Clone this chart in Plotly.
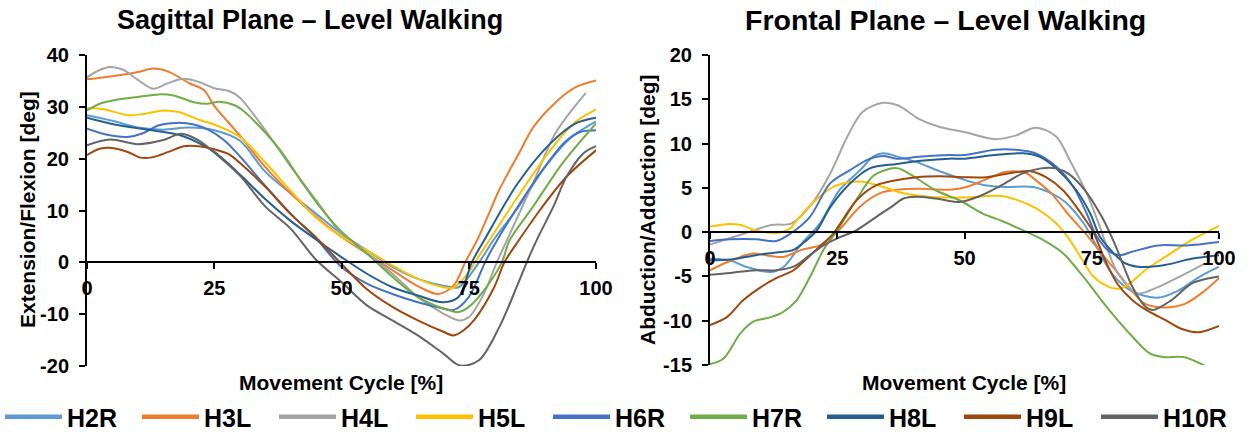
import plotly.graph_objects as go

FONT = "Liberation Sans, Arial, sans-serif"
W, H = 1250, 439

NAMES = ["H2R", "H3L", "H4L", "H5L", "H6R", "H7R", "H8L", "H9L", "H10R"]
COLORS = ["#5B9BD5", "#ED7D31", "#A5A5A5", "#FFC000", "#4472C4",
          "#70AD47", "#255E91", "#9E480E", "#636363"]

X_TICKS = [0, 25, 50, 75, 100]
SAG_Y_TICKS = [-20, -10, 0, 10, 20, 30, 40]
FRO_Y_TICKS = [-15, -10, -5, 0, 5, 10, 15, 20]

# ---------------- Sagittal plane (Extension/Flexion) ----------------
SAG_H2R_X = [0, 5, 10, 15, 20, 25, 30, 35, 40, 45, 50, 55, 60, 65, 70, 73, 77, 80, 85, 90, 95, 100]
SAG_H2R_Y = [28.4, 27.3, 26.0, 25.6, 26.0, 25.5, 23.5, 17.5, 13.3, 9.4, 5.5, 2.3, -0.9, -3.2, -4.5, -4.8, 0.0, 4.5, 11.0, 18.4, 24.0, 27.2]

SAG_H3L_X = [0, 5, 10, 13, 16, 20, 23, 25, 30, 35, 40, 45, 50, 55, 60, 65, 69, 72, 74.3, 76.6, 79, 81, 85, 87.7, 92.2, 96, 100]
SAG_H3L_Y = [35.3, 35.9, 36.7, 37.4, 36.8, 34.6, 33.2, 30.2, 24.5, 18.4, 13.3, 8.8, 4.9, 1.7, -1.5, -4.6, -6.1, -4.5, 0.0, 4.2, 9.5, 14.0, 21.3, 26.1, 31.0, 33.8, 35.1]

SAG_H4L_X = [0, 2.5, 4.5, 7, 10, 13, 16, 19, 22, 25, 28, 30, 35, 40, 45, 50, 55, 60, 65, 70, 73, 75, 78, 80.5, 82, 87.6, 92, 98]
SAG_H4L_Y = [35.7, 37.1, 37.7, 37.2, 35.2, 33.5, 34.6, 35.4, 34.8, 33.6, 33.0, 31.8, 25.5, 18.5, 12.0, 5.5, 1.7, -2.2, -6.7, -9.9, -11.2, -10.6, -6.0, 0.0, 3.2, 15.2, 24.9, 32.7]

SAG_H5L_X = [0, 3, 8, 11, 15, 18, 22, 25, 30, 35, 40, 45, 50, 55, 60, 65, 70, 72, 75, 76.2, 79, 84.6, 91, 95.6, 100]
SAG_H5L_Y = [29.7, 29.6, 28.4, 28.6, 29.3, 29.0, 27.5, 26.6, 24.2, 19.3, 13.8, 8.6, 4.9, 2.3, -0.6, -3.2, -4.8, -4.9, -1.9, 0.0, 4.2, 12.6, 21.6, 26.8, 29.5]

SAG_H6R_X = [0, 4.5, 8, 11, 14, 17.6, 21, 24, 27, 30, 35, 40, 45, 50, 55, 60, 65, 70, 72, 75, 78.2, 80, 85, 90, 94, 97, 100]
SAG_H6R_Y = [25.8, 24.5, 24.2, 24.9, 26.4, 26.9, 26.6, 25.5, 23.5, 20.5, 14.8, 9.4, 4.6, -0.9, -4.1, -6.1, -7.7, -8.9, -9.2, -6.7, 0.0, 3.3, 11.3, 18.5, 23.3, 25.2, 25.5]

SAG_H7R_X = [0, 2.5, 6, 10, 14, 17, 21, 23.6, 26, 29, 31, 34, 38, 42, 46, 50, 55, 60, 65, 70, 73, 75, 78, 81.5, 83, 87.6, 93.4, 100]
SAG_H7R_Y = [29.3, 30.6, 31.4, 31.9, 32.4, 32.2, 30.9, 30.6, 31.0, 30.3, 29.0, 26.1, 21.6, 15.8, 10.4, 5.9, 1.7, -2.8, -6.7, -8.9, -9.6, -8.6, -5.4, 0.0, 4.2, 10.7, 19.1, 26.8]

SAG_H8L_X = [0, 4.5, 9, 14, 18, 22, 25, 30, 35, 40, 45, 50, 55, 60, 65, 70, 73, 75.6, 78, 84.6, 91, 96, 100]
SAG_H8L_Y = [27.9, 26.8, 26.0, 25.3, 24.6, 23.0, 21.3, 17.0, 12.2, 8.0, 4.4, 1.0, -2.2, -4.8, -6.4, -7.7, -6.7, 0.0, 4.2, 15.2, 22.9, 26.8, 27.9]

SAG_H9L_X = [0, 2.5, 4.5, 8, 10.5, 13, 16, 19, 22, 25, 28, 30, 35, 40, 45, 50, 55, 60, 65, 70, 72, 74, 76, 80, 82, 84.8, 89, 94.2, 100]
SAG_H9L_Y = [20.7, 21.9, 22.1, 21.3, 20.2, 20.3, 21.3, 22.4, 22.4, 21.8, 20.8, 19.2, 14.6, 9.3, 4.8, -0.3, -5.2, -8.6, -11.2, -13.4, -14.1, -13.1, -11.2, -4.8, 0.0, 4.2, 10.1, 16.5, 21.6]

SAG_H10R_X = [0, 4.5, 10, 15, 18.5, 22, 25, 30, 35, 40, 45, 50, 55, 60, 65, 70, 73.3, 77, 81, 84.4, 86.4, 88.3, 91.6, 94.2, 97.5, 100]
SAG_H10R_Y = [22.6, 23.7, 22.8, 23.6, 24.8, 23.5, 21.2, 16.8, 10.8, 6.5, 0.5, -3.8, -8.3, -11.2, -14.1, -17.6, -19.9, -18.9, -12.5, -4.8, 0.0, 4.2, 10.7, 16.5, 21.0, 22.4]

# ---------------- Frontal plane (Abduction/Adduction) ----------------
FRO_H2R_X = [0, 4, 7, 12, 14.5, 18, 21.6, 25.5, 29.5, 32, 34, 37, 40.6, 45, 50, 54, 58, 63.5, 67, 70, 73.4, 75.3, 79, 83, 88, 92, 96, 100]
FRO_H2R_Y = [-3.0, -3.2, -3.9, -4.5, -3.9, -1.3, 1.0, 4.8, 7.0, 8.5, 8.9, 8.5, 7.9, 6.9, 5.9, 5.3, 5.1, 5.1, 4.4, 3.3, 1.0, -0.9, -4.7, -6.7, -7.4, -6.6, -5.1, -3.9]

FRO_H3L_X = [0, 3.3, 6, 8.5, 12, 14.4, 18, 21.6, 23.6, 25.3, 29.5, 33.4, 37, 41, 47, 50.4, 54, 58, 62, 63.5, 67, 70.7, 74, 77, 80, 83, 85.5, 89.4, 93.3, 97, 100]
FRO_H3L_Y = [-4.3, -3.4, -2.8, -2.4, -2.7, -2.8, -2.0, -1.5, -0.7, 0.2, 2.9, 4.4, 4.8, 4.9, 4.8, 5.1, 5.9, 6.8, 6.7, 6.1, 4.4, 1.8, -0.3, -2.5, -4.5, -6.7, -8.1, -8.5, -8.1, -6.7, -5.2]

FRO_H4L_X = [0, 6, 12, 16, 20, 23.6, 27, 30, 34, 37, 41, 45, 50, 56, 60, 64, 68, 70.7, 74, 76.6, 80, 84, 88, 92, 97]
FRO_H4L_Y = [-1.4, -0.3, 0.8, 1.0, 3.2, 6.6, 10.8, 13.6, 14.6, 14.3, 12.8, 11.9, 11.3, 10.5, 10.9, 11.8, 10.8, 8.1, 4.4, 0.6, -4.5, -6.9, -6.2, -5.1, -3.6]

FRO_H5L_X = [0, 3.3, 6, 9, 13, 15.7, 17, 20, 23.6, 26, 30, 34, 38, 43, 49, 57, 60, 64, 68, 70.7, 73, 75.3, 78, 80, 82, 85.5, 89.4, 94.6, 100]
FRO_H5L_Y = [0.6, 0.9, 0.8, 0.2, -0.1, 0.4, 1.3, 3.2, 4.9, 5.5, 5.7, 5.1, 4.4, 4.0, 3.9, 4.1, 3.7, 2.7, 1.0, -0.9, -3.0, -5.0, -6.1, -6.4, -6.0, -4.3, -2.8, -0.9, 0.7]

FRO_H6R_X = [0, 4, 9, 13, 15.7, 19.6, 23.6, 27.5, 31.4, 34, 36.7, 41, 47, 50, 56, 60, 64, 68, 71.4, 74, 76, 78.5, 80.5, 83, 88, 93.6, 100]
FRO_H6R_Y = [-1.0, -0.8, -0.8, -1.0, -0.2, 1.7, 5.5, 7.0, 8.3, 8.6, 8.3, 8.5, 8.7, 8.7, 9.3, 9.3, 8.9, 7.4, 5.1, 2.1, -0.5, -2.2, -2.6, -2.2, -1.5, -1.5, -1.1]

FRO_H7R_X = [0, 2.6, 6, 8.5, 12, 14.4, 17, 19.6, 22.3, 25, 28.7, 32, 35, 37, 40, 44.4, 49, 53.6, 57.6, 61.5, 65.5, 69.4, 73.3, 78, 82.5, 86.4, 89, 93, 97.3]
FRO_H7R_Y = [-14.9, -14.3, -11.4, -10.1, -9.6, -9.0, -7.7, -5.1, -2.0, 0.2, 3.6, 6.3, 7.1, 7.2, 6.3, 4.7, 3.6, 2.1, 1.2, 0.2, -0.9, -2.4, -5.0, -8.5, -11.5, -13.7, -14.1, -14.1, -15.1]

FRO_H8L_X = [0, 4, 9, 13, 16.4, 19, 21, 23.6, 27.5, 31.4, 36.7, 42, 47, 50, 56, 61.6, 64.8, 68, 72, 74.7, 76.6, 79, 81.5, 84, 89.4, 94.6, 100]
FRO_H8L_Y = [-3.2, -3.1, -2.6, -2.3, -2.0, -0.9, 0.2, 2.8, 5.5, 7.2, 7.7, 8.1, 8.3, 8.3, 8.7, 8.9, 8.5, 7.2, 4.7, 2.1, -0.5, -2.2, -3.5, -3.9, -3.7, -3.0, -2.6]

FRO_H9L_X = [0, 3.3, 6.5, 10, 13, 16.4, 19, 21.6, 24.3, 28.8, 32.7, 36, 40.6, 45, 50, 54.3, 58.3, 62.8, 66, 69.4, 73.4, 75.3, 77.5, 80, 83, 86, 89.4, 92.6, 96, 100]
FRO_H9L_Y = [-10.5, -9.6, -7.7, -6.2, -5.2, -4.3, -3.0, -1.6, -0.1, 3.6, 5.3, 5.8, 6.2, 6.3, 6.2, 6.2, 6.6, 6.9, 6.2, 4.7, 1.7, 0.0, -3.0, -5.8, -7.7, -8.9, -9.9, -10.9, -11.3, -10.6]

FRO_H10R_X = [0, 4, 9, 13, 16.4, 19.6, 22.3, 25, 28.7, 32.6, 36, 38, 40.5, 44.4, 49, 52.7, 57.3, 61.3, 65, 68, 70.4, 73.7, 77, 79.5, 83, 85.5, 87, 90.6, 94.6, 98, 100]
FRO_H10R_Y = [-4.8, -4.6, -4.3, -4.3, -3.9, -2.6, -1.5, -0.7, 0.2, 1.7, 3.0, 3.8, 4.0, 3.8, 3.4, 4.0, 5.3, 6.6, 7.2, 7.2, 6.6, 4.7, 1.7, -1.3, -6.2, -8.4, -8.8, -7.7, -5.8, -5.2, -5.0]

SAG = [(SAG_H2R_X, SAG_H2R_Y), (SAG_H3L_X, SAG_H3L_Y), (SAG_H4L_X, SAG_H4L_Y),
       (SAG_H5L_X, SAG_H5L_Y), (SAG_H6R_X, SAG_H6R_Y), (SAG_H7R_X, SAG_H7R_Y),
       (SAG_H8L_X, SAG_H8L_Y), (SAG_H9L_X, SAG_H9L_Y), (SAG_H10R_X, SAG_H10R_Y)]
FRO = [(FRO_H2R_X, FRO_H2R_Y), (FRO_H3L_X, FRO_H3L_Y), (FRO_H4L_X, FRO_H4L_Y),
       (FRO_H5L_X, FRO_H5L_Y), (FRO_H6R_X, FRO_H6R_Y), (FRO_H7R_X, FRO_H7R_Y),
       (FRO_H8L_X, FRO_H8L_Y), (FRO_H9L_X, FRO_H9L_Y), (FRO_H10R_X, FRO_H10R_Y)]

fig = go.Figure()
for name, color, (xs, ys) in zip(NAMES, COLORS, SAG):
    fig.add_trace(go.Scatter(x=xs, y=ys, mode="lines", name=name, legendgroup=name,
                             line=dict(color=color, width=2, shape="spline", smoothing=0.9),
                             xaxis="x", yaxis="y", showlegend=False))
for name, color, (xs, ys) in zip(NAMES, COLORS, FRO):
    fig.add_trace(go.Scatter(x=xs, y=ys, mode="lines", name=name, legendgroup=name,
                             line=dict(color=color, width=2, shape="spline", smoothing=0.9),
                             xaxis="x2", yaxis="y2", showlegend=False))
# legend keys (thicker sample lines, as in the original)
for name, color in zip(NAMES, COLORS):
    fig.add_trace(go.Scatter(x=[None], y=[None], mode="lines", name=name, legendgroup=name,
                             line=dict(color=color, width=4.5), xaxis="x", yaxis="y",
                             showlegend=True, hoverinfo="skip"))


def px_x(p):
    return p / W


def px_y(p):
    return 1 - p / H


def hyphen_labels(vals):
    return [str(v).replace("−", "-") for v in vals]


tickfont = dict(family=FONT, size=20, color="black", weight="bold")
common_x = dict(range=[0, 100], tickvals=X_TICKS, ticktext=hyphen_labels(X_TICKS),
                showline=True, linecolor="black", linewidth=2,
                ticks="outside", ticklen=6, tickwidth=2, tickcolor="black", showgrid=False,
                zeroline=False, tickfont=tickfont, anchor="free", ticklabelstandoff=2)
common_y = dict(showline=True, linecolor="black", linewidth=2, ticks="outside", ticklen=6,
                tickwidth=2, tickcolor="black", showgrid=False, zeroline=False,
                tickfont=tickfont, ticklabelstandoff=6)

fig.update_layout(
    width=W, height=H,
    margin=dict(l=0, r=0, t=0, b=0, autoexpand=False),
    paper_bgcolor="white", plot_bgcolor="white",
    font=dict(family=FONT, color="black"),
    xaxis=dict(domain=[px_x(87), px_x(596)], position=px_y(262), **common_x),
    yaxis=dict(domain=[px_y(366), px_y(55)], range=[-20, 40], tickvals=SAG_Y_TICKS,
               ticktext=hyphen_labels(SAG_Y_TICKS), anchor="x", **common_y),
    xaxis2=dict(domain=[px_x(710), px_x(1219)], position=px_y(232), **common_x),
    yaxis2=dict(domain=[px_y(365), px_y(55)], range=[-15, 20], tickvals=FRO_Y_TICKS,
                ticktext=hyphen_labels(FRO_Y_TICKS), anchor="x2", **common_y),
    legend=dict(orientation="h", x=0, xanchor="left", y=px_y(417), yanchor="middle",
                font=dict(family=FONT, size=25, color="black", weight="bold"),
                entrywidth=65, entrywidthmode="pixels", itemwidth=57,
                bgcolor="rgba(0,0,0,0)", traceorder="normal"),
    showlegend=True,
)


def ann(text, x, y, size, angle=0):
    fig.add_annotation(text=f"<b>{text}</b>", x=px_x(x), y=px_y(y), xref="paper", yref="paper",
                       xanchor="center", yanchor="middle", showarrow=False, textangle=angle,
                       font=dict(family=FONT, size=size, color="black"))


ann("Sagittal Plane – Level Walking", 310, 20, 27)
ann("Frontal Plane – Level Walking", 945, 20, 28.5)
ann("Extension/Flexion [deg]", 28, 210, 21, -90)
ann("Abduction/Adduction [deg]", 648, 210, 21, -90)
ann("Movement Cycle [%]", 341, 382, 21)
ann("Movement Cycle [%]", 964, 382, 21)

fig.write_html("out.html")
